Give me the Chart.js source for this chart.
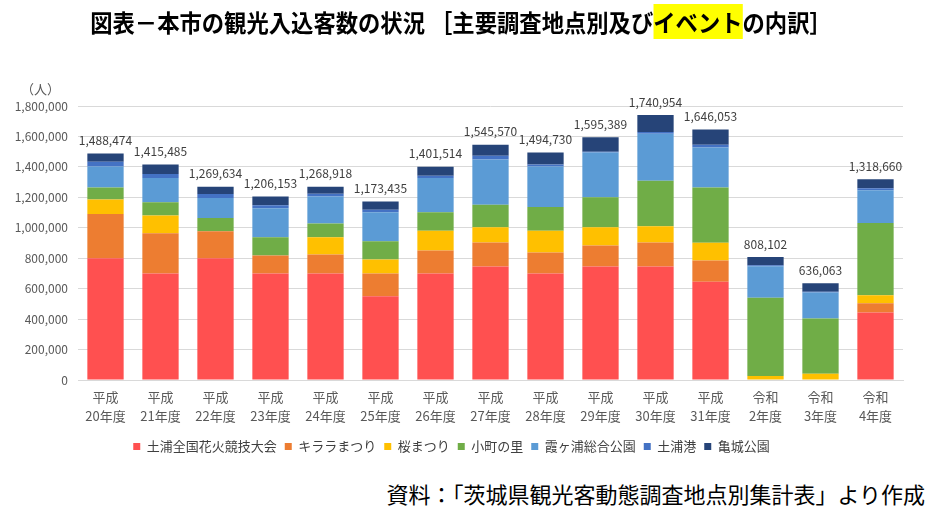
<!DOCTYPE html>
<html lang="ja">
<head>
<meta charset="utf-8">
<script src="https://cdn.jsdelivr.net/npm/chart.js@4/dist/chart.umd.min.js"></script>
<style>
  body { margin: 0; background: #fff; font-family: "Noto Sans CJK JP", sans-serif; }
  #wrap { position: relative; width: 938px; height: 513px; }
  #title { position: absolute; left: 6px; width: 910px; top: 4px; text-align: center; font-size: 24px; font-weight: bold; color: #000; white-space: nowrap; transform: scaleX(0.93); transform-origin: 455px 0; }
  #title .hl { background: #ffff00; }
  #unit { position: absolute; left: 21px; top: 79px; font-size: 13px; color: #595959; }
  #source { position: absolute; right: 13px; top: 477px; font-size: 22px; color: #000; white-space: nowrap; }
  #box { position: absolute; left: 0; top: 0; width: 938px; height: 470px; }
</style>
</head>
<body>
<div id="wrap">
  <div id="box"><canvas id="chart"></canvas></div>
  <div id="title">図表－本市の観光入込客数の状況 ［主要調査地点別及び<span class="hl">イベント</span>の内訳］</div>
  <div id="unit">（人）</div>
  <div id="source">資料：「茨城県観光客動態調査地点別集計表」より作成</div>
</div>
<script>
const years = [
  ["平成", "20年度"], ["平成", "21年度"], ["平成", "22年度"], ["平成", "23年度"],
  ["平成", "24年度"], ["平成", "25年度"], ["平成", "26年度"], ["平成", "27年度"],
  ["平成", "28年度"], ["平成", "29年度"], ["平成", "30年度"], ["平成", "31年度"],
  ["令和", "2年度"], ["令和", "3年度"], ["令和", "4年度"],
];

// 各地点・イベントの入込客数
const hanabi   = [800000, 700000, 800000, 700000, 700000, 550000, 700000, 745000, 700000, 745000, 745000, 645000, 0, 0, 443000];
const kirara   = [290000, 264000, 177000, 118000, 125000, 150000, 151000, 158000, 138000, 139000, 158000, 140000, 0, 0, 61000];
const sakura   = [95000, 116000, 0, 0, 113000, 92000, 129000, 101000, 142000, 120000, 107000, 116000, 26000, 41000, 52000];
const komachi  = [80000, 87000, 88000, 120000, 90000, 120000, 122000, 148000, 157000, 196000, 299000, 364000, 515000, 363000, 476000];
const kasumi   = [138000, 160000, 131000, 190000, 178000, 190000, 225000, 297000, 266000, 294000, 308000, 262000, 207000, 170000, 214000];
const minato   = [30000, 26000, 26000, 20000, 18000, 17000, 15000, 24000, 13000, 5000, 13000, 18000, 6000, 6000, 13000];
const kijo     = [55474, 62485, 47634, 58153, 44918, 54435, 59514, 72570, 78730, 96389, 110954, 101053, 54102, 56063, 59660];

const totals = [1488474, 1415485, 1269634, 1206153, 1268918, 1173435, 1401514, 1545570, 1494730, 1595389, 1740954, 1646053, 808102, 636063, 1318660];

const yTicksMax = 1800000;
const yStep = 200000;

const font = '"Noto Sans CJK JP", sans-serif';

const totalLabels = {
  id: "totalLabels",
  afterDatasetsDraw(chart) {
    const ctx = chart.ctx;
    const last = chart.data.datasets.length - 1;
    const meta = chart.getDatasetMeta(last);
    ctx.save();
    ctx.font = "12px " + font;
    ctx.fillStyle = "#404040";
    ctx.textAlign = "center";
    ctx.textBaseline = "bottom";
    meta.data.forEach((bar, i) => {
      ctx.fillText(totals[i].toLocaleString("en-US"), bar.x, bar.y - 7);
    });
    ctx.restore();
  },
};

new Chart(document.getElementById("chart"), {
  type: "bar",
  data: {
    labels: years,
    datasets: [
      { label: "土浦全国花火競技大会", data: hanabi, backgroundColor: "#ff5050" },
      { label: "キララまつり", data: kirara, backgroundColor: "#ed7d31" },
      { label: "桜まつり", data: sakura, backgroundColor: "#ffc000" },
      { label: "小町の里", data: komachi, backgroundColor: "#70ad47" },
      { label: "霞ヶ浦総合公園", data: kasumi, backgroundColor: "#5b9bd5" },
      { label: "土浦港", data: minato, backgroundColor: "#4472c4" },
      { label: "亀城公園", data: kijo, backgroundColor: "#264478" },
    ],
  },
  options: {
    responsive: true,
    maintainAspectRatio: false,
    animation: false,
    categoryPercentage: 1,
    barPercentage: 0.66,
    layout: { padding: { top: 106, right: 35, left: 0, bottom: 7 } },
    plugins: {
      title: { display: false },
      tooltip: { enabled: false },
      legend: {
        position: "bottom",
        labels: {
          font: { family: font, size: 13 },
          color: "#404040",
          boxWidth: 7,
          boxHeight: 7,
          padding: 8,
        },
      },
    },
    scales: {
      x: {
        stacked: true,
        grid: { display: false },
        border: { color: "#d9d9d9" },
        afterFit: (scale) => { scale.height += 7; },
        ticks: {
          font: { family: font, size: 13, lineHeight: 1.5 },
          color: "#595959",
          maxRotation: 0,
          padding: -1,
        },
      },
      y: {
        stacked: true,
        min: 0,
        max: yTicksMax,
        afterFit: (scale) => { scale.width = 78; },
        grid: { color: "#d9d9d9", drawTicks: false },
        border: { display: false },
        ticks: {
          stepSize: yStep,
          padding: 10,
          font: { family: font, size: 12 },
          color: "#595959",
          callback: (v) => v.toLocaleString("en-US"),
        },
      },
    },
  },
  plugins: [totalLabels],
});
</script>
</body>
</html>
